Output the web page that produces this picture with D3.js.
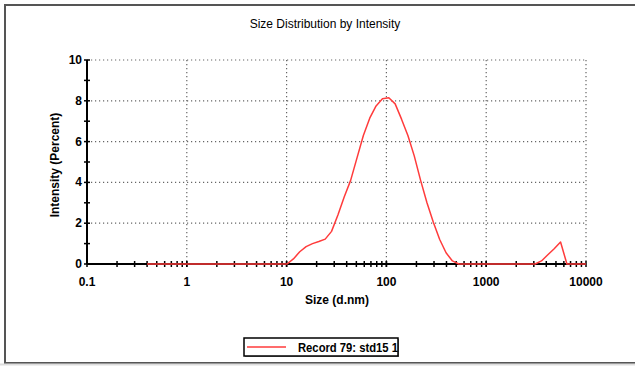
<!DOCTYPE html>
<html>
<head>
<meta charset="utf-8">
<script src="https://cdn.jsdelivr.net/npm/d3@7"></script>
<style>
  body { margin: 0; background: #fff; }
  svg text { font-family: "Liberation Sans", Arial, sans-serif; fill: #000; }
  .tick-label { font-size: 12px; font-weight: bold; }
  .axis-title { font-size: 12px; font-weight: bold; }
</style>
</head>
<body>
<div class="chart"></div>
<script>
// Data: size bins (d.nm) and intensity (%)
var sizes = [0.4, 0.4632, 0.5365, 0.6213, 0.7195, 0.8332, 0.9649, 1.117, 1.294, 1.499,
  1.736, 2.01, 2.328, 2.696, 3.122, 3.615, 4.187, 4.849, 5.615, 6.503,
  7.531, 8.721, 10.1, 11.7, 13.54, 15.69, 18.17, 21.04, 24.36, 28.21,
  32.67, 37.84, 43.82, 50.75, 58.77, 68.06, 78.82, 91.28, 105.7, 122.4,
  141.8, 164.2, 190.1, 220.2, 255.0, 295.3, 342.0, 396.1, 458.7, 531.2,
  615.1, 712.4, 825.0, 955.4, 1106, 1281, 1484, 1718, 1990, 2305,
  2669, 3091, 3580, 4145, 4801, 5560, 6439, 7456, 8635, 10000];
var intensity = [0, 0, 0, 0, 0, 0, 0, 0, 0, 0,
  0, 0, 0, 0, 0, 0, 0, 0, 0, 0,
  0, 0, 0, 0.25, 0.6, 0.85, 1.0, 1.1, 1.22, 1.6,
  2.4, 3.3, 4.1, 5.2, 6.3, 7.15, 7.75, 8.1, 8.15, 7.85,
  7.1, 6.3, 5.3, 4.1, 3.0, 2.05, 1.2, 0.55, 0.15, 0,
  0, 0, 0, 0, 0, 0, 0, 0, 0, 0,
  0, 0, 0.15, 0.45, 0.75, 1.08, 0, 0, 0, 0];
var xTicks = [0.1, 1, 10, 100, 1000, 10000];
var yTicks = [0, 2, 4, 6, 8, 10];
var chartTitle = "Size Distribution by Intensity";
var xTitle = "Size (d.nm)";
var yTitle = "Intensity (Percent)";
var legendLabel = "Record 79: std15 1";

var svgWidth = 635;
var svgHeight = 366;
var margin = { top: 60, right: 49, bottom: 102, left: 87 };
var width = svgWidth - margin.left - margin.right;
var height = svgHeight - margin.top - margin.bottom;

var svg = d3.select(".chart")
  .append("svg")
  .attr("width", svgWidth)
  .attr("height", svgHeight);

// outer frame
svg.append("rect")
  .attr("x", 5).attr("y", 5)
  .attr("width", 640).attr("height", 358)
  .attr("fill", "none")
  .attr("stroke", "#555")
  .attr("stroke-width", 2);
svg.append("line")
  .attr("x1", 0).attr("x2", svgWidth)
  .attr("y1", 364.5).attr("y2", 364.5)
  .attr("stroke", "#ddd").attr("stroke-width", 2);

svg.append("text")
  .attr("x", 325).attr("y", 28)
  .attr("text-anchor", "middle")
  .style("font-size", "12px")
  .text(chartTitle);

var chart = svg.append("g")
  .attr("transform", "translate(" + margin.left + "," + margin.top + ")");

var xScale = d3.scaleLog().domain([0.1, 10000]).range([0, width]);
var yScale = d3.scaleLinear().domain([0, 10]).range([height, 0]);

// grid
chart.selectAll(".xgrid")
  .data(xTicks.slice(1))
  .enter().append("line")
  .attr("x1", function(d) { return xScale(d); })
  .attr("x2", function(d) { return xScale(d); })
  .attr("y1", 0).attr("y2", height)
  .attr("stroke", "#666").attr("stroke-width", 1.2)
  .attr("stroke-dasharray", "1.2,2.8");

chart.selectAll(".ygrid")
  .data(yTicks.slice(1))
  .enter().append("line")
  .attr("x1", 0).attr("x2", width)
  .attr("y1", function(d) { return yScale(d); })
  .attr("y2", function(d) { return yScale(d); })
  .attr("stroke", "#666").attr("stroke-width", 1.2)
  .attr("stroke-dasharray", "1.2,2.8");

// minor ticks on x (every log step)
var xMinor = [];
for (var e = -1; e < 4; e++) {
  for (var m = 1; m <= 10; m++) xMinor.push(m * Math.pow(10, e));
}
chart.selectAll(".xtick")
  .data(xMinor)
  .enter().append("line")
  .attr("x1", function(d) { return xScale(d); })
  .attr("x2", function(d) { return xScale(d); })
  .attr("y1", height - 3).attr("y2", height + 3)
  .attr("stroke", "#000").attr("stroke-width", 1.5);

// y ticks (every unit)
chart.selectAll(".ytick")
  .data(d3.range(0, 11))
  .enter().append("line")
  .attr("x1", -3).attr("x2", 3)
  .attr("y1", function(d) { return yScale(d); })
  .attr("y2", function(d) { return yScale(d); })
  .attr("stroke", "#000").attr("stroke-width", 1.5);

// axis lines
chart.append("line")
  .attr("x1", 0).attr("x2", width)
  .attr("y1", height).attr("y2", height)
  .attr("stroke", "#000").attr("stroke-width", 2);
chart.append("line")
  .attr("x1", 0).attr("x2", 0)
  .attr("y1", 0).attr("y2", height)
  .attr("stroke", "#000").attr("stroke-width", 2);

// tick labels
chart.selectAll(".xlab")
  .data(xTicks)
  .enter().append("text")
  .attr("class", "tick-label")
  .attr("x", function(d) { return xScale(d); })
  .attr("y", height + 22)
  .attr("text-anchor", "middle")
  .text(function(d) { return d3.format("")(d); });

chart.selectAll(".ylab")
  .data(yTicks)
  .enter().append("text")
  .attr("class", "tick-label")
  .attr("x", -5)
  .attr("y", function(d) { return yScale(d) + 4; })
  .attr("text-anchor", "end")
  .text(function(d) { return d; });

// data line
var line = d3.line()
  .x(function(d, i) { return xScale(sizes[i]); })
  .y(function(d) { return yScale(d); });

chart.append("path")
  .datum(intensity)
  .attr("d", line)
  .attr("fill", "none")
  .attr("stroke", "#ff3b3b")
  .attr("stroke-width", 1.5)
  .attr("stroke-linejoin", "round");

// axis titles
svg.append("text")
  .attr("class", "axis-title")
  .attr("x", 337).attr("y", 304)
  .attr("text-anchor", "middle")
  .text(xTitle);

svg.append("text")
  .attr("class", "axis-title")
  .attr("transform", "translate(59,165) rotate(-90)")
  .attr("text-anchor", "middle")
  .text(yTitle);

// legend
var legend = svg.append("g").attr("transform", "translate(244,338)");
legend.append("rect")
  .attr("x", 1).attr("y", 1)
  .attr("width", 154).attr("height", 18)
  .attr("fill", "#888");
legend.append("rect")
  .attr("width", 154).attr("height", 18)
  .attr("fill", "#fff")
  .attr("stroke", "#000").attr("stroke-width", 1.5);
legend.append("line")
  .attr("x1", 3).attr("x2", 42)
  .attr("y1", 9).attr("y2", 9)
  .attr("stroke", "#ff3b3b").attr("stroke-width", 1.6);
legend.append("text")
  .attr("class", "axis-title")
  .attr("x", 54).attr("y", 14)
  .attr("textLength", 100)
  .attr("lengthAdjust", "spacingAndGlyphs")
  .text(legendLabel);
</script>
</body>
</html>
